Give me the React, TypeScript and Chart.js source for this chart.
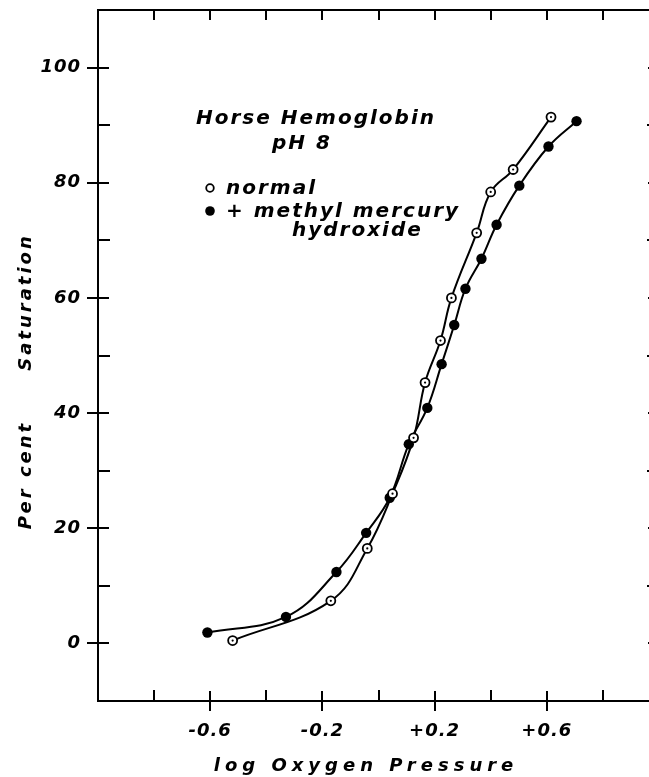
import { useEffect, useRef } from 'react';
import { Chart, registerables } from 'chart.js';

Chart.register(...registerables);

// ---- data ----
const normalX = [-0.52, -0.17, -0.04, 0.05, 0.125, 0.166, 0.221, 0.26, 0.35, 0.40, 0.48, 0.615];
const normalY = [0.5, 7.4, 16.5, 26.0, 35.7, 45.3, 52.6, 60.0, 71.3, 78.4, 82.3, 91.4];
const mercuryX = [-0.61, -0.33, -0.15, -0.044, 0.04, 0.108, 0.174, 0.225, 0.27, 0.31, 0.367, 0.421, 0.502, 0.606, 0.706];
const mercuryY = [1.9, 4.6, 12.4, 19.2, 25.3, 34.6, 40.9, 48.5, 55.3, 61.6, 66.8, 72.7, 79.5, 86.3, 90.7];

const xLabelValues = [-0.6, -0.2, 0.2, 0.6];
const xLabelTexts = ['-0.6', '-0.2', '+0.2', '+0.6'];
const yLabelValues = [0, 20, 40, 60, 80, 100];

const xTitle = 'log Oxygen Pressure';
const yTitleA = 'Per cent';
const yTitleB = 'Saturation';
const noteTitle = 'Horse Hemoglobin';
const noteSub = 'pH 8';
const legendNormal = 'normal';
const legendMercury1 = '+ methyl mercury';
const legendMercury2 = 'hydroxide';

const FAMILY = "'DejaVu Sans', sans-serif";

function near(a: number, b: number) {
  return Math.abs(a - b) < 1e-6;
}

const decorPlugin = {
  id: 'decor',
  beforeDraw(chart: any) {
    (chart.ctx as any).letterSpacing = '1px';
  },
  afterDraw(chart: any) {
    const ctx = chart.ctx as CanvasRenderingContext2D;
    const { left, right, top, bottom } = chart.chartArea;
    const xs = chart.scales.x;
    const ys = chart.scales.y;
    ctx.save();
    ctx.strokeStyle = '#000';
    ctx.fillStyle = '#000';
    ctx.lineWidth = 2;
    // frame top and right
    ctx.beginPath();
    ctx.moveTo(left, top);
    ctx.lineTo(right, top);
    ctx.lineTo(right, bottom);
    ctx.stroke();

    // y ticks (both sides)
    for (const t of ys.ticks) {
      const v = t.value;
      if (near(v, ys.min) || near(v, ys.max)) continue;
      const py = Math.round(ys.getPixelForValue(v));
      const major = yLabelValues.some((m) => near(m, v));
      ctx.beginPath();
      if (major) {
        ctx.moveTo(left - 11, py); ctx.lineTo(left + 11, py);
        ctx.moveTo(right - 11, py); ctx.lineTo(right + 11, py);
      } else {
        ctx.moveTo(left, py); ctx.lineTo(left + 12, py);
        ctx.moveTo(right, py); ctx.lineTo(right - 12, py);
      }
      ctx.stroke();
    }
    // x ticks (bottom and top)
    for (const t of xs.ticks) {
      const v = t.value;
      if (near(v, xs.min) || near(v, xs.max)) continue;
      const px = Math.round(xs.getPixelForValue(v));
      const major = xLabelValues.some((m) => near(m, v));
      ctx.beginPath();
      if (major) {
        ctx.moveTo(px, bottom - 10); ctx.lineTo(px, bottom + 10);
      } else {
        ctx.moveTo(px, bottom); ctx.lineTo(px, bottom - 11);
      }
      ctx.moveTo(px, top); ctx.lineTo(px, top + 10);
      ctx.stroke();
    }

    // small dots inside open circles
    const meta = chart.getDatasetMeta(0);
    for (const el of meta.data) {
      ctx.beginPath();
      ctx.arc(el.x, el.y, 1.1, 0, Math.PI * 2);
      ctx.fill();
    }

    // axis titles
    (ctx as any).letterSpacing = '5px';
    ctx.font = `italic bold 18px ${FAMILY}`;
    ctx.textAlign = 'center';
    ctx.textBaseline = 'alphabetic';
    ctx.fillText(xTitle, 366, 771);

    (ctx as any).letterSpacing = '3px';
    ctx.save();
    ctx.translate(31, 475);
    ctx.rotate(-Math.PI / 2);
    ctx.fillText(yTitleA, 0, 0);
    ctx.restore();
    ctx.save();
    ctx.translate(31, 302);
    ctx.rotate(-Math.PI / 2);
    ctx.fillText(yTitleB, 0, 0);
    ctx.restore();

    // annotation
    (ctx as any).letterSpacing = '2px';
    ctx.font = `italic bold 20px ${FAMILY}`;
    ctx.textAlign = 'left';
    ctx.fillText(noteTitle, 196, 124);
    ctx.fillText(noteSub, 272, 149);
    ctx.fillText(legendNormal, 226, 194);
    ctx.fillText(legendMercury1, 226, 217);
    ctx.fillText(legendMercury2, 292, 236);

    ctx.lineWidth = 1.8;
    ctx.beginPath();
    ctx.arc(210, 188, 3.8, 0, Math.PI * 2);
    ctx.stroke();
    ctx.beginPath();
    ctx.arc(210, 211, 4.8, 0, Math.PI * 2);
    ctx.fill();
    ctx.restore();
  },
};

export default function App() {
  const ref = useRef<HTMLCanvasElement>(null);
  useEffect(() => {
    const tickFont = { family: FAMILY, size: 18, style: 'italic' as const, weight: 'bold' as const };
    const chart = new Chart(ref.current!, {
      type: 'line',
      data: {
        datasets: [
          {
            label: legendNormal,
            data: normalX.map((x, i) => ({ x, y: normalY[i] })),
            borderColor: '#000',
            borderWidth: 2,
            tension: 0.4,
            pointRadius: 4.5,
            pointBorderWidth: 1.8,
            pointBackgroundColor: '#fff',
            pointBorderColor: '#000',
            fill: false,
          },
          {
            label: legendMercury1,
            data: mercuryX.map((x, i) => ({ x, y: mercuryY[i] })),
            borderColor: '#000',
            borderWidth: 2,
            tension: 0.4,
            pointRadius: 5.2,
            pointBorderWidth: 0,
            pointBackgroundColor: '#000',
            pointBorderColor: '#000',
            fill: false,
          },
        ],
      },
      options: {
        animation: false,
        responsive: false,
        events: [],
        layout: { padding: { left: 0, top: 10, right: 41, bottom: 0 } },
        plugins: { legend: { display: false }, tooltip: { enabled: false }, title: { display: false } },
        scales: {
          x: {
            type: 'linear',
            min: -1,
            max: 1,
            afterFit: (s: any) => { s.height = 76; s.paddingLeft = 0; s.paddingRight = 0; },
            grid: { display: false, drawTicks: false },
            border: { display: true, color: '#000', width: 2 },
            ticks: {
              stepSize: 0.2,
              padding: 20,
              color: '#000',
              font: tickFont,
              maxRotation: 0,
              autoSkip: false,
              callback: (v: any) => {
                const i = xLabelValues.findIndex((m) => near(m, Number(v)));
                return i >= 0 ? xLabelTexts[i] : '';
              },
            },
          },
          y: {
            type: 'linear',
            min: -10,
            max: 110,
            afterFit: (s: any) => { s.width = 98; s.paddingTop = 0; s.paddingBottom = 0; },
            grid: { display: false, drawTicks: false },
            border: { display: true, color: '#000', width: 2 },
            ticks: {
              stepSize: 10,
              padding: 17,
              color: '#000',
              font: tickFont,
              autoSkip: false,
              callback: (v: any) => (yLabelValues.some((m) => near(m, Number(v))) ? String(v) : ''),
            },
          },
        },
      },
      plugins: [decorPlugin],
    } as any);
    return () => chart.destroy();
  }, []);
  return (
    <div style={{ position: 'fixed', left: 0, top: 0, width: 649, height: 777, overflow: 'hidden', background: '#fff' }}>
      <canvas ref={ref} width={700} height={777} style={{ display: 'block', width: 700, height: 777 }} />
    </div>
  );
}
